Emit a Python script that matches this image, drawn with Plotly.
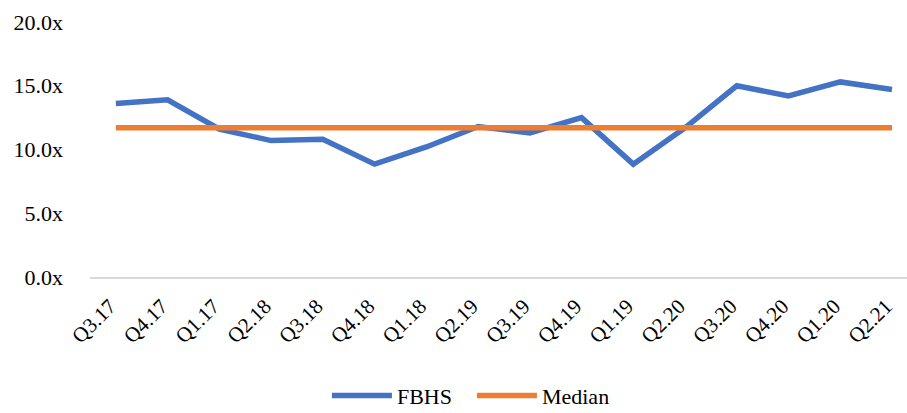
import plotly.graph_objects as go

quarters = ["Q3.17", "Q4.17", "Q1.17", "Q2.18", "Q3.18", "Q4.18", "Q1.18", "Q2.19",
            "Q3.19", "Q4.19", "Q1.19", "Q2.20", "Q3.20", "Q4.20", "Q1.20", "Q2.21"]
fbhs = [13.6, 13.9, 11.6, 10.7, 10.8, 8.85, 10.2, 11.8,
        11.3, 12.5, 8.85, 11.7, 15.0, 14.2, 15.3, 14.7]
median = [11.7] * len(quarters)

font_family = "Liberation Serif"

fig = go.Figure()
fig.add_trace(go.Scatter(x=quarters, y=fbhs, name="FBHS", mode="lines",
                         line=dict(color="#4472C4", width=5.5)))
fig.add_trace(go.Scatter(x=quarters, y=median, name="Median", mode="lines",
                         line=dict(color="#ED7D31", width=5.5)))

fig.update_layout(
    width=907, height=413,
    margin=dict(l=90, r=0, t=22, b=136, autoexpand=False),
    plot_bgcolor="white", paper_bgcolor="white",
    font=dict(family=font_family, size=22, color="#000000"),
    showlegend=True,
    legend=dict(orientation="h", x=0.29, xanchor="left", y=-0.465, yanchor="middle",
                font=dict(size=22), itemwidth=60, entrywidth=70, entrywidthmode="pixels"),
    xaxis=dict(type="category", range=[-0.5, 15.29], tickangle=-45, showgrid=False,
               showline=True, linecolor="#d9d9d9", linewidth=1.5, ticks="",
               tickfont=dict(size=21), ticklabelstandoff=7, ticklabelshift=-6,
               automargin=False),
    yaxis=dict(range=[0, 20], dtick=5, tickformat=".1f", ticksuffix="x",
               showgrid=False, zeroline=False, showline=False, ticks="",
               ticklabelstandoff=26, automargin=False),
)

fig.write_html("out.html", config={"displayModeBar": False},
               post_script="document.body.style.margin='0';document.body.style.overflow='hidden';")
